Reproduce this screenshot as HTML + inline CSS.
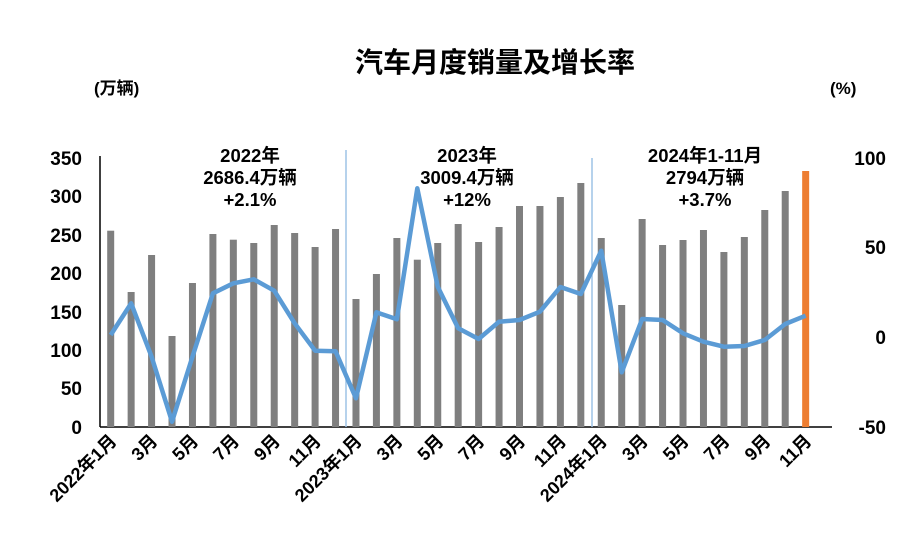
<!DOCTYPE html>
<html><head><meta charset="utf-8"><style>
body{margin:0;background:#fff}
text{font-family:"Liberation Sans","Noto Sans CJK SC",sans-serif;font-weight:bold;fill:#000}
</style></head><body>
<svg width="915" height="537" xmlns="http://www.w3.org/2000/svg">
<text x="495" y="72" font-size="28" text-anchor="middle">汽车月度销量及增长率</text>
<text x="94" y="94" font-size="17">(万辆)</text>
<text x="830" y="94" font-size="17">(%)</text>
<g font-size="19" text-anchor="end">
<text x="82" y="165">350</text><text x="82" y="203">300</text><text x="82" y="242">250</text><text x="82" y="280">200</text><text x="82" y="319">150</text><text x="82" y="357">100</text><text x="82" y="395">50</text><text x="82" y="434">0</text>
</g>
<g font-size="19" text-anchor="end">
<text x="886" y="165">100</text><text x="886" y="254">50</text><text x="886" y="344">0</text><text x="886" y="434">-50</text>
</g>
<line x1="100" y1="156" x2="100" y2="427" stroke="#000" stroke-width="1.5"/>
<line x1="100" y1="427" x2="832" y2="427" stroke="#000" stroke-width="1.5"/>
<line x1="346" y1="150" x2="346" y2="427" stroke="#9dc3e6" stroke-width="1.5"/>
<line x1="592" y1="158" x2="592" y2="427" stroke="#9dc3e6" stroke-width="1.5"/>
<g fill="#7f7f7f" id="bars"></g>
<polyline id="ln" fill="none" stroke="#5b9bd5" stroke-width="4.5" stroke-linejoin="round"/>
<g font-size="18.5" text-anchor="middle">
<text x="250" y="162">2022年</text><text x="250" y="184">2686.4万辆</text><text x="250" y="206">+2.1%</text>
<text x="467" y="162">2023年</text><text x="467" y="184">3009.4万辆</text><text x="467" y="206">+12%</text>
<text x="705" y="162">2024年1-11月</text><text x="705" y="184">2794万辆</text><text x="705" y="206">+3.7%</text>
</g>
<g id="xl" font-size="18" text-anchor="end"></g>
</svg>
<script>
var tops=[230.7,292,255,336,283,234,239.7,243,225,233,247,229,299,274,238,259.7,243,224,242,227,206,206,197,183,238,305,219,245,240,230,252,237,210,191,171];
var ly=[335,303.3,356.7,421.7,356.7,293.3,283.3,279.3,290.7,323.3,350.7,351.3,398.3,312.3,319.3,188.3,286.7,328.3,339,321.7,320,311.7,287,294,250.7,372.3,319,320,333.3,341.7,346.7,346,340,324,315.7];
var ns="http://www.w3.org/2000/svg",b=document.getElementById('bars'),pts=[],xl=document.getElementById('xl');
var labs={0:"2022年1月",12:"2023年1月",24:"2024年1月"};
for(var i=0;i<35;i++){var cx=110.7+20.44*i;var r=document.createElementNS(ns,'rect');
r.setAttribute('x',cx-3.5);r.setAttribute('y',tops[i]);r.setAttribute('width',7);r.setAttribute('height',427-tops[i]);
if(i==34)r.setAttribute('fill','#ed7d31');b.appendChild(r);pts.push(cx+','+ly[i]);
if(i%2==0){var m=(i%12)+1;var t=document.createElementNS(ns,'text');t.textContent=labs[i]||(m+'月');
t.setAttribute('transform','translate('+(cx+7)+',442) rotate(-45)');xl.appendChild(t);}}
document.getElementById('ln').setAttribute('points',pts.join(' '));
</script>
</body></html>
